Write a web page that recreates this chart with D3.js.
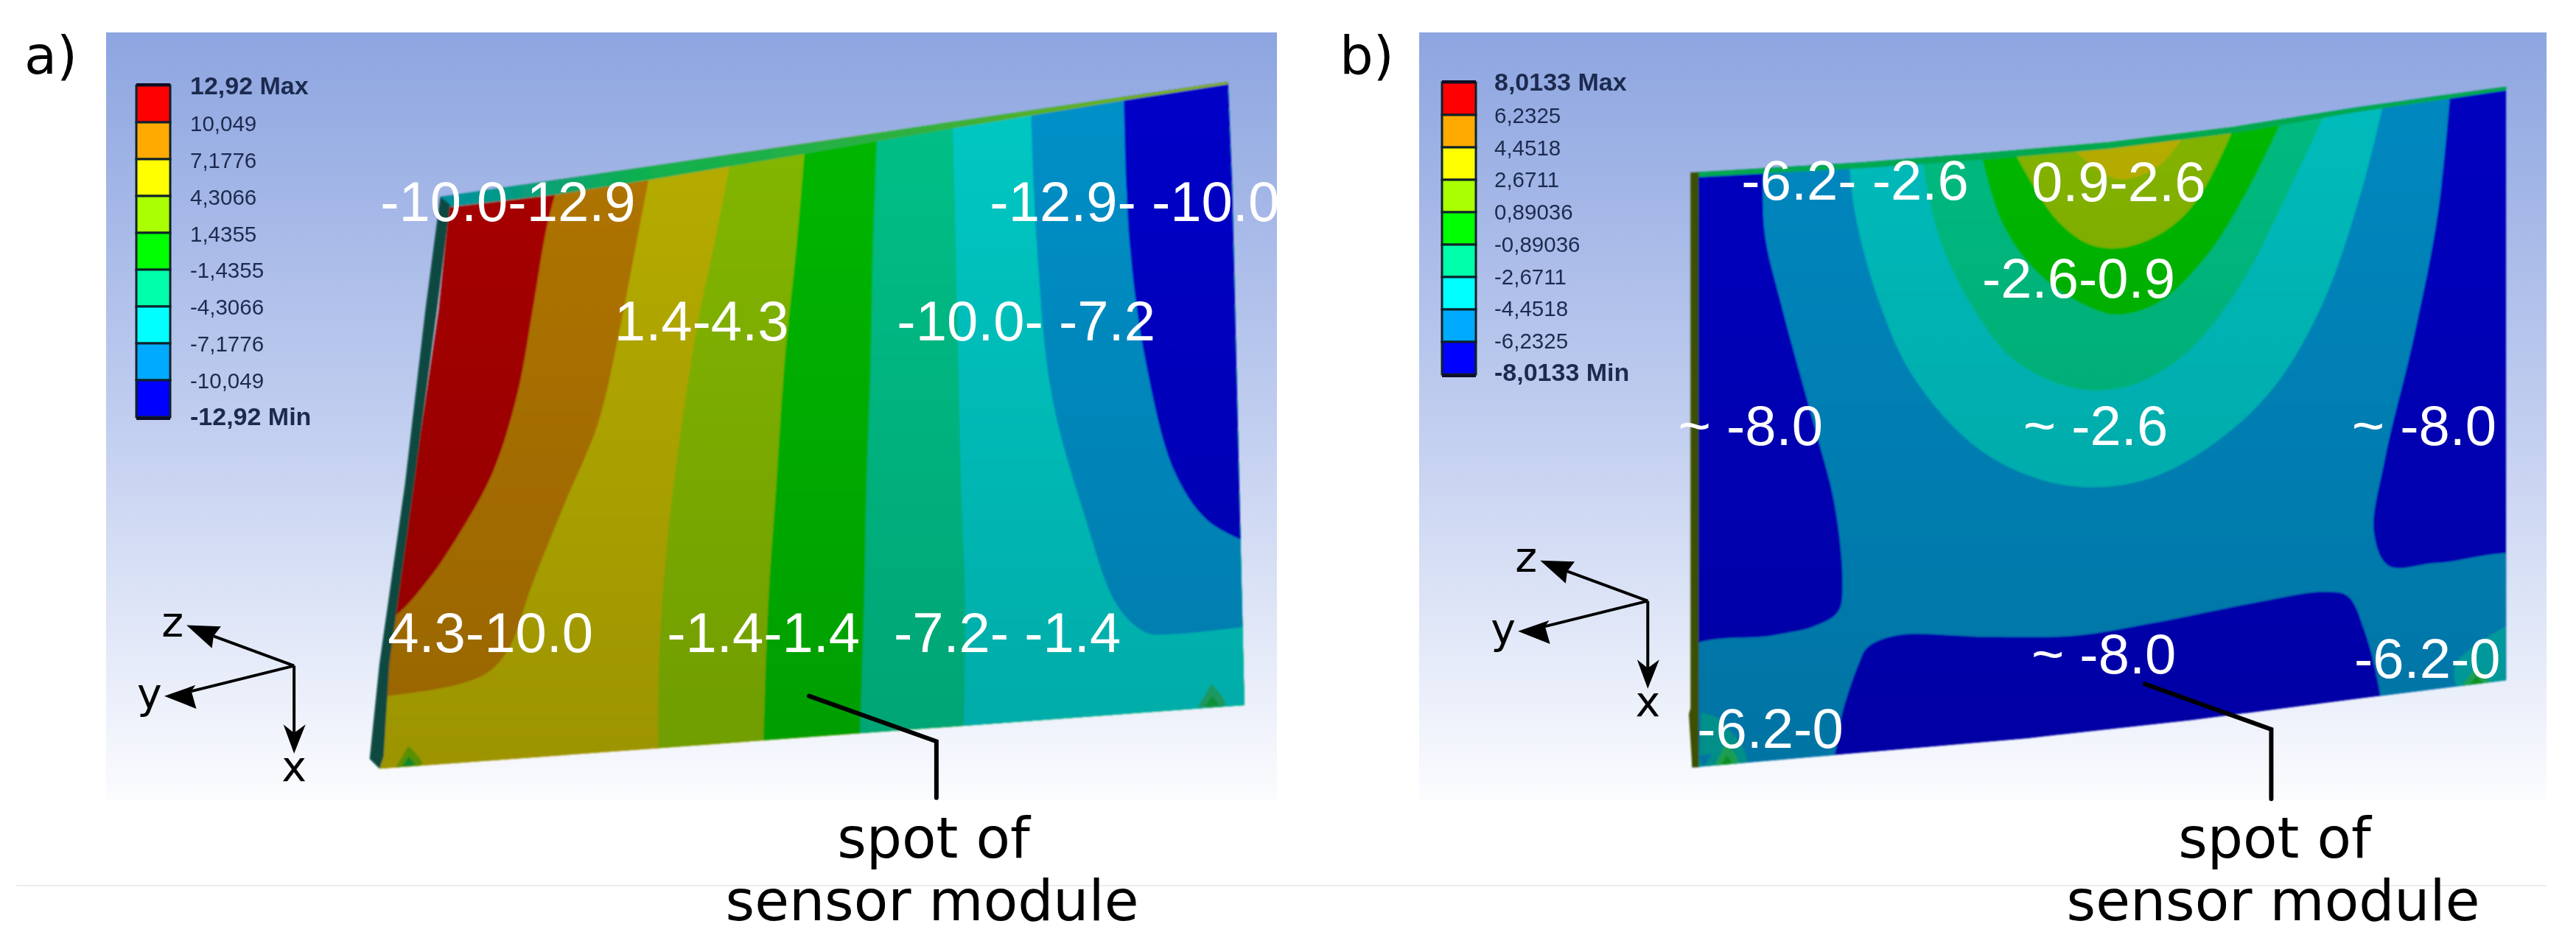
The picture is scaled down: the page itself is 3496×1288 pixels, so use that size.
<!DOCTYPE html>
<html><head><meta charset="utf-8">
<script src="https://cdn.jsdelivr.net/npm/d3@7/dist/d3.min.js"></script>
<style>html,body{margin:0;padding:0;background:#fff}svg{display:block}
.cap{font-family:'DejaVu Sans',Verdana,sans-serif;fill:#000}
.val{font-family:'Liberation Sans',Arial,sans-serif;fill:#fff;font-size:76px}
.leg{font-family:'Liberation Sans',Arial,sans-serif;fill:#1f2c50}
</style></head><body><div id="c"></div>
<script>
// ---------- legend data ----------
const legendColors=["#ff0000","#ffaa00","#ffff00","#aaff00","#00ff00","#00ffaa","#00ffff","#00aaff","#0000ff"];
const legendA=["12,92 Max","10,049","7,1776","4,3066","1,4355","-1,4355","-4,3066","-7,1776","-10,049","-12,92 Min"];
const legendB=["8,0133 Max","6,2325","4,4518","2,6711","0,89036","-0,89036","-2,6711","-4,4518","-6,2325","-8,0133 Min"];
// ---------- shaded contour colours ----------
const shadeRed="#a90000",shadeOrange="#b27600",shadeYellow="#b8ae00",shadeLime="#84b800",shadeGreen="#00b800",
      shadeSea="#00c088",shadeCyan="#00c8c4",shadeBlue="#0090c8",shadeDeep="#0000c8";
// ---------- plate outlines (drawing units 0..1568) ----------
const plateA=[[536,325],[825,268],[1495,135],[1500,304],[1515,1165],[843,1232],[462,1270],[460,1254],[471,1096],[534,511],[547,338]];
const edgeA=[[536,325],[518,511],[493,800],[462,1096],[450,1254],[462,1270],[467,1250],[474,1096],[504,800],[532,511],[548,338]];
const stripA=[[536,325],[825,268],[1495,135],[1495,139],[1368,166],[1160,212],[980,254],[792,297],[680,321],[547,342]];
const plateB=[[492,285],[700,268],[854,252],[1000,235],[1150,210],[1302,177],[1483,143],[1483,1124],[1300,1155],[1100,1190],[900,1220],[492,1268]];
const edgeB=[[490,285],[500,285],[500,1268],[492,1268],[488,1180],[490,1170]];
const stripB=[[492,285],[700,268],[854,252],[1000,235],[1150,210],[1302,177],[1483,143],[1483,149],[1302,185],[1150,220],[1000,246],[854,263],[700,278],[492,293]];
// ---------- contour boundaries of panel a, left to right ----------
const bandsA=[
 {c:shadeOrange,b:[[680,300],[665,380],[650,500],[630,650],[600,780],[560,880],[520,960],[478,1020],[440,1035]],e:[[440,1400],[1600,1400],[1600,100]]},
 {c:shadeYellow,b:[[792,280],[775,400],[752,560],[728,700],[688,830],[648,965],[620,1070],[595,1110],[560,1130],[470,1150],[440,1152]],e:[[440,1400],[1600,1400],[1600,100]]},
 {c:shadeLime,b:[[890,260],[870,400],[850,530],[830,700],[812,900],[802,1100],[802,1300]],e:[[1600,1300],[1600,100]]},
 {c:shadeGreen,b:[[980,240],[970,400],[955,600],[945,800],[935,1000],[928,1300]],e:[[1600,1300],[1600,100]]},
 {c:shadeSea,b:[[1068,220],[1063,400],[1060,600],[1055,800],[1052,1000],[1045,1300]],e:[[1600,1300],[1600,100]]},
 {c:shadeCyan,b:[[1160,200],[1165,500],[1170,800],[1175,1000],[1172,1300]],e:[[1600,1300],[1600,100]]},
 {c:shadeBlue,b:[[1255,170],[1262,400],[1280,650],[1320,850],[1360,1000],[1395,1045],[1425,1048],[1520,1035]],e:[[1600,1035],[1600,100]]},
 {c:shadeDeep,b:[[1368,150],[1375,400],[1395,600],[1430,780],[1470,860],[1520,897]],e:[[1600,897],[1600,100]]}
];
const spotsA=[
 {c:"#6aa800",b:[[482,1268],[514,1262],[497,1232]],e:[]},
 {c:"#10a030",b:[[490,1266],[505,1263],[497,1250]],e:[]},
 {c:"#20b070",b:[[1458,1168],[1492,1164],[1475,1130]],e:[]},
 {c:"#10a840",b:[[1467,1167],[1484,1165],[1475,1150]],e:[]}
];
// ---------- contour boundaries of panel b, outer to inner ----------
const bandsB=[
 {c:"#0088c0",b:[[580,200],[580,380],[600,500],[640,700],[665,830],[675,960],[670,1010],[640,1035],[590,1050],[480,1078],[480,1300],[650,1300],[665,1250],[675,1177],[695,1096],[705,1070],[740,1050],[850,1052],[960,1050],[1050,1030],[1180,995],[1260,978],[1290,985],[1310,1040],[1330,1150],[1340,1300],[1520,1300],[1520,928],[1400,930],[1340,935],[1322,880],[1335,760],[1370,560],[1400,350],[1418,100]],e:[]},
 {c:"#00bcbc",b:[[680,200],[690,350],[720,500],[760,620],[830,730],[900,785],[970,805],[1050,790],[1130,730],[1200,640],[1260,500],[1310,300],[1345,100]],e:[]},
 {c:"#00bb80",b:[[765,200],[790,380],[830,500],[880,590],[940,635],[985,645],[1040,630],[1100,575],[1160,470],[1220,310],[1275,150]],e:[]},
 {c:shadeGreen,b:[[835,200],[870,370],[920,460],[980,510],[1010,520],[1060,500],[1120,420],[1170,310],[1220,170]],e:[]},
 {c:"#84b400",b:[[880,240],[910,313],[937,365],[973,402],[1009,410],[1051,394],[1087,361],[1117,308],[1155,200]],e:[]},
 {c:shadeYellow,b:[[959,250],[995,289],[1022,296],[1063,271],[1090,225]],e:[]},
 {c:"#00a8a0",b:[[503,1178],[524,1187],[558,1258],[500,1272]],e:[]},
 {c:"#00aeb0",b:[[1482,1035],[1422,1096],[1425,1136],[1482,1124]],e:[]},
 {c:"#20b860",b:[[518,1268],[549,1266],[534,1224]],e:[]},
 {c:"#10a820",b:[[526,1266],[541,1264],[534,1248]],e:[]},
 {c:"#0088c0",b:[[500,1250],[515,1246],[506,1268]],e:[]},
 {c:"#20b860",b:[[1428,1135],[1464,1130],[1446,1102]],e:[]},
 {c:"#10a820",b:[[1438,1133],[1456,1131],[1446,1118]],e:[]}
];
// ---------- white value labels ----------
const valuesA=[["-10.0-12.9",463,365],["-12.9- -10.0",1205,365],["1.4-4.3",748,562],["-10.0- -7.2",1092,562],["4.3-10.0",472,1077],["-1.4-1.4",812,1077],["-7.2- -1.4",1088,1077]];
const valuesB=[["-6.2- -2.6",552,330],["0.9-2.6",905,332],["-2.6-0.9",845,492],["~ -8.0",475,735],["~ -2.6",895,735],["~ -8.0",1295,735],["~ -8.0",905,1113],["-6.2-0",1298,1120],["-6.2-0",498,1236]];
// ---------- leader lines ----------
const leaderA=[[985,1150],[1140,1225],[1140,1318]];
const leaderB=[[1043,1130],[1197,1205],[1197,1320]];
// ---------- coordinate triad: origin, tips and barbs in drawing units ----------
const triadA={o:[358,1100],z:{tip:[227,1033],a:[269,1035],b:[258,1071],n:[260,1051]},y:{tip:[200,1150],a:[238,1132],b:[239,1171],n:[233,1142]},x:{tip:[358,1245],a:[345,1197],b:[372,1197],n:[358,1211]}};
const triadLabelsA=[["z",210,1052],["y",182,1170],["x",358,1290]];
const triadShiftB=[80,-107];

const W=3496,H=1288;
const svg=d3.select("#c").append("svg").attr("width",W).attr("height",H);
const defs=svg.append("defs");
const bg=defs.append("linearGradient").attr("id","bg").attr("x1",0).attr("y1",0).attr("x2",0).attr("y2",1);
[[0,"#8da5e0"],[.5,"#c0cdef"],[1,"#fbfcfe"]].forEach(d=>bg.append("stop").attr("offset",d[0]).attr("stop-color",d[1]));
const shade=defs.append("linearGradient").attr("id","shade").attr("x1",0).attr("y1",0).attr("x2",0).attr("y2",1);
[[0,0],[1,.15]].forEach(d=>shade.append("stop").attr("offset",d[0]).attr("stop-color","#000").attr("stop-opacity",d[1]));
const sa=defs.append("linearGradient").attr("id","stripA");
[[0,"#0090a0"],[.25,"#10b050"],[.6,"#30b040"],[1,"#90b000"]].forEach(d=>sa.append("stop").attr("offset",d[0]).attr("stop-color",d[1]));
defs.append("filter").attr("id","soft").append("feGaussianBlur").attr("stdDeviation",1);
defs.append("filter").attr("id","soft2").append("feGaussianBlur").attr("stdDeviation",.6);

const sy=d3.scaleLinear().domain([0,1568]).range([0,H]);
const sxA=d3.scaleLinear().domain([0,1568]).range([0,1748]);
const sxB=d3.scaleLinear().domain([0,1568]).range([1748,3496]);

function panel(o){
  const sx=o.sx;
  const g=svg.append("g");
  g.append("rect").attr("x",o.bg[0]).attr("y",44).attr("width",o.bg[1]-o.bg[0]).attr("height",1042).attr("fill","url(#bg)");
  const poly=d3.line().x(p=>sx(p[0])).y(p=>sy(p[1]));
  const curve=d3.line().x(p=>sx(p[0])).y(p=>sy(p[1])).curve(d3.curveCatmullRom.alpha(.5));
  const id="plate"+o.key;
  defs.append("clipPath").attr("id",id).append("path").attr("d",poly(o.plate)+"Z");
  const pg=g.append("g").attr("filter","url(#soft)");
  const inner=pg.append("g").attr("clip-path",`url(#${id})`);
  inner.append("path").attr("d",poly(o.plate)+"Z").attr("fill",o.base);
  inner.selectAll("path.b").data(o.bands).join("path").attr("class","b")
    .attr("fill",d=>d.c)
    .attr("d",d=>curve(d.b)+d.e.map(p=>`L${sx(p[0])},${sy(p[1])}`).join("")+"Z");
  inner.append("path").attr("d",poly(o.plate)+"Z").attr("fill","url(#shade)");
  pg.append("path").attr("d",poly(o.strip)+"Z").attr("fill",o.stripFill);
  pg.append("path").attr("d",poly(o.edge)+"Z").attr("fill",o.edgeFill);
  // values
  g.selectAll("text.val").data(o.values).join("text").attr("class","val")
    .attr("x",d=>sx(d[1])).attr("y",d=>sy(d[2])).text(d=>d[0]);
  // leader
  g.append("path").attr("d",poly(o.leader)).attr("fill","none").attr("stroke","#000").attr("stroke-width",6).attr("stroke-linecap","round").attr("stroke-linejoin","miter");
  // legend
  const lg=g.append("g").attr("filter","url(#soft2)");
  const cell=d3.scaleBand().domain(legendColors).range(o.legCells);
  lg.selectAll("rect.cell").data(legendColors).join("rect").attr("class","cell")
    .attr("x",o.legX).attr("width",46).attr("y",d=>cell(d)).attr("height",cell.bandwidth())
    .attr("fill",d=>d).attr("stroke","#10202a").attr("stroke-width",3);
  lg.append("rect").attr("x",o.legX).attr("width",46).attr("y",o.legCells[1]).attr("height",4).attr("fill","#10102a");
  lg.append("rect").attr("x",o.legX).attr("width",46).attr("y",o.legCells[0]-3).attr("height",4).attr("fill","#101020");
  const ty=d3.scalePoint().domain(o.legend.map((d,i)=>i)).range(o.legText);
  lg.selectAll("text.leg").data(o.legend).join("text").attr("class","leg")
    .attr("x",o.legTextX).attr("y",(d,i)=>ty(i))
    .attr("font-size",(d,i)=>(i==0||i==9)?34:29.5)
    .attr("font-weight",(d,i)=>(i==0||i==9)?"bold":"normal").text(d=>d);
  // triad
  const shift=o.shift;
  const tx=p=>sx(p[0]+shift[0]), tyy=p=>sy(p[1]+shift[1]);
  const tri=d3.line().x(tx).y(tyy);
  const tg=g.append("g").attr("filter","url(#soft2)");
  ["z","y","x"].forEach(k=>{
    const a=triadA[k];
    tg.append("path").attr("d",tri([triadA.o,a.n])).attr("stroke","#000").attr("stroke-width",4).attr("fill","none");
    tg.append("path").attr("d",tri([a.tip,a.a,a.n,a.b])+"Z").attr("fill","#000");
  });
  tg.selectAll("text").data(triadLabelsA).join("text").attr("class","cap").attr("font-size",57).attr("text-anchor","middle")
    .attr("x",d=>tx([d[1],0])).attr("y",d=>tyy([0,d[2]])).text(d=>d[0]);
  // captions
  g.append("text").attr("class","cap").attr("font-size",76).attr("text-anchor","middle").attr("x",o.capX[0]).attr("y",1164).text("spot of");
  g.append("text").attr("class","cap").attr("font-size",76).attr("text-anchor","middle").attr("x",o.capX[1]).attr("y",1249).text("sensor module");
  g.append("text").attr("class","cap").attr("font-size",72).attr("x",o.tag[1]).attr("y",100).text(o.tag[0]);
}
svg.append("line").attr("x1",22).attr("x2",3456).attr("y1",1202).attr("y2",1202).attr("stroke","#ececec").attr("stroke-width",2);
panel({key:"A",sx:sxA,bg:[144,1733],plate:plateA,base:shadeRed,bands:bandsA.concat(spotsA),strip:stripA,stripFill:"url(#stripA)",edge:edgeA,edgeFill:"#074a40",
  values:valuesA,leader:leaderA,legend:legendA,legX:185,legCells:[116,566],legText:[128,577],legTextX:258,shift:[0,0],capX:[1267,1265],tag:["a)",33]});
panel({key:"B",sx:sxB,bg:[1926,3456],plate:plateB,base:"#0000c0",bands:bandsB,strip:stripB,stripFill:"#00a850",edge:edgeB,edgeFill:"#3c4f00",
  values:valuesB,leader:leaderB,legend:legendB,legX:1957,legCells:[112,508],legText:[123,517],legTextX:2028,shift:triadShiftB,capX:[3087,3085],tag:["b)",1818]});
</script></body></html>
